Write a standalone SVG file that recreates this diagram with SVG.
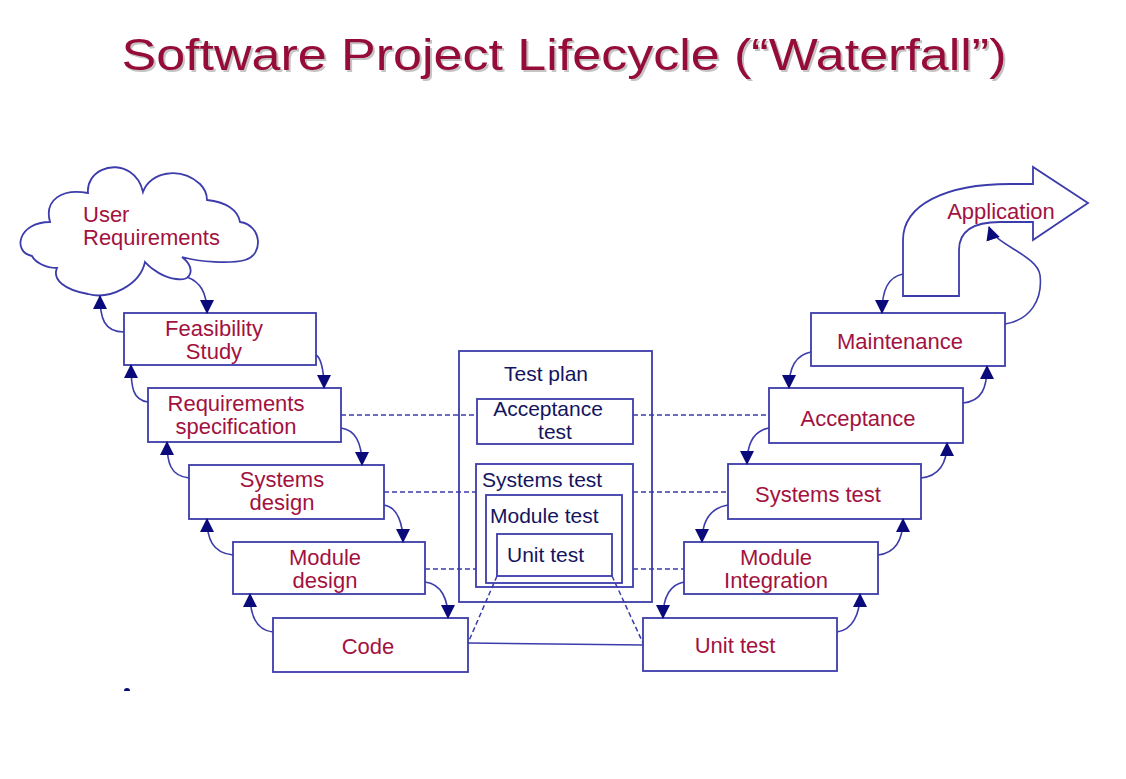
<svg xmlns="http://www.w3.org/2000/svg" width="1126" height="779" viewBox="0 0 1126 779">
<defs>
<style>
.box{fill:#fff;stroke:#3c3cab;stroke-width:1.8}
.lbl{font-family:"Liberation Sans",Arial,sans-serif;font-size:22px;fill:#a3123f;text-anchor:middle}
.tp{font-family:"Liberation Sans",Arial,sans-serif;font-size:21px;fill:#14145e}
.conn{fill:none;stroke:#3c3cab;stroke-width:1.6}
.dash{fill:none;stroke:#3c3cab;stroke-width:1.5;stroke-dasharray:5,3}
.title{font-family:"Liberation Sans",Arial,sans-serif;font-size:45px;text-anchor:middle}
</style>
<marker id="ah" viewBox="0 0 14 14" markerWidth="14" markerHeight="14" refX="13" refY="7" orient="auto" markerUnits="userSpaceOnUse">
<path d="M0,0 L14,7 L0,14 z" fill="#0a0a7a"/>
</marker>
</defs>
<rect width="1126" height="779" fill="#fff"/>

<g id="title">
<text class="title" x="566" y="72" fill="#c4c4c4" textLength="885" lengthAdjust="spacingAndGlyphs">Software Project Lifecycle (“Waterfall”)</text>
<text class="title" x="564" y="70" fill="#960c38" textLength="885" lengthAdjust="spacingAndGlyphs">Software Project Lifecycle (“Waterfall”)</text>
</g>

<g id="user-requirements">
<path class="box" stroke-width="1.5" d="M32,256 C12,252 18,222 50,222 C44,200 62,188 88,193 C86,172 112,160 130,172 C136,176 141,183 143,192 C150,172 180,166 200,184 C205,189 207,195 207,200 C226,202 238,210 240,222 C262,225 264,255 245,260 C230,264 200,262 182,257 C196,268 192,282 176,279 C165,278 152,270 145,262 C140,285 110,300 88,294 C65,290 52,280 57,268 C45,268 35,262 32,256 Z"/>
<text class="lbl" style="text-anchor:start" x="83" y="222">User</text>
<text class="lbl" style="text-anchor:start" x="83" y="245">Requirements</text>
</g>

<g id="feasibility">
<rect class="box" x="124" y="313" width="192" height="52"/>
<text class="lbl" x="214" y="336">Feasibility</text>
<text class="lbl" x="214" y="359">Study</text>
</g>
<g id="req-spec">
<rect class="box" x="148" y="388" width="193" height="54"/>
<text class="lbl" x="236" y="411">Requirements</text>
<text class="lbl" x="236" y="434">specification</text>
</g>
<g id="systems-design">
<rect class="box" x="189" y="465" width="195" height="54"/>
<text class="lbl" x="282" y="487">Systems</text>
<text class="lbl" x="282" y="510">design</text>
</g>
<g id="module-design">
<rect class="box" x="233" y="542" width="192" height="52"/>
<text class="lbl" x="325" y="565">Module</text>
<text class="lbl" x="325" y="588">design</text>
</g>
<g id="code">
<rect class="box" x="273" y="618" width="195" height="54"/>
<text class="lbl" x="368" y="654">Code</text>
</g>

<g id="test-plan">
<rect class="box" x="459" y="351" width="193" height="251"/>
<text class="tp" x="546" y="381" text-anchor="middle">Test plan</text>
<rect class="box" x="477" y="399" width="156" height="45"/>
<text class="tp" x="548" y="416" text-anchor="middle">Acceptance</text>
<text class="tp" x="555" y="439" text-anchor="middle">test</text>
<rect class="box" x="476" y="464" width="157" height="123"/>
<text class="tp" x="482" y="487">Systems test</text>
<rect class="box" x="486" y="495" width="136" height="88"/>
<text class="tp" x="490" y="523">Module test</text>
<rect class="box" x="497" y="534" width="115" height="42"/>
<text class="tp" x="507" y="562">Unit test</text>
</g>

<g id="application">
<path class="box" stroke-width="1.6" d="M903,296 L903,240 C903,205 945,184 1010,184 L1033,184 L1033,167 L1088,203 L1033,240 L1033,222 L1000,222 C975,222 959,230 959,250 L959,296 Z"/>
<text class="lbl" x="1001" y="219">Application</text>
</g>
<g id="maintenance">
<rect class="box" x="811" y="313" width="194" height="53"/>
<text class="lbl" x="900" y="349">Maintenance</text>
</g>
<g id="acceptance">
<rect class="box" x="769" y="388" width="194" height="55"/>
<text class="lbl" x="858" y="426">Acceptance</text>
</g>
<g id="systems-test">
<rect class="box" x="728" y="464" width="193" height="55"/>
<text class="lbl" x="818" y="502">Systems test</text>
</g>
<g id="module-integration">
<rect class="box" x="684" y="542" width="194" height="52"/>
<text class="lbl" x="776" y="565">Module</text>
<text class="lbl" x="776" y="588">Integration</text>
</g>
<g id="unit-test">
<rect class="box" x="643" y="618" width="194" height="53"/>
<text class="lbl" x="735" y="653">Unit test</text>
</g>

<g id="connectors">
<path class="dash" d="M341,415 L477,415 M633,415 L769,415"/>
<path class="dash" d="M384,492 L476,492 M633,492 L728,492"/>
<path class="dash" d="M425,569 L476,569 M633,569 L684,569"/>
<path class="dash" d="M497,576 L468,643 M612,576 L643,643"/>
<path class="conn" d="M468,643 L643,645"/>

<path class="conn" marker-end="url(#ah)" d="M187,277 C200,282 207,292 207,313"/>
<path class="conn" marker-end="url(#ah)" d="M316,355 C320,357 324,368 324,388"/>
<path class="conn" marker-end="url(#ah)" d="M341,428 C356,430 362,445 362,465"/>
<path class="conn" marker-end="url(#ah)" d="M384,505 C398,507 403,525 403,542"/>
<path class="conn" marker-end="url(#ah)" d="M425,582 C442,584 448,600 448,618"/>

<path class="conn" marker-end="url(#ah)" d="M124,332 C104,332 100,318 100,296"/>
<path class="conn" marker-end="url(#ah)" d="M148,402 C133,400 131,388 131,365"/>
<path class="conn" marker-end="url(#ah)" d="M189,478 C170,476 167,462 167,442"/>
<path class="conn" marker-end="url(#ah)" d="M233,555 C212,553 207,538 207,519"/>
<path class="conn" marker-end="url(#ah)" d="M273,632 C254,630 250,612 250,594"/>

<path class="conn" marker-end="url(#ah)" d="M837,632 C852,630 860,615 860,594"/>
<path class="conn" marker-end="url(#ah)" d="M878,555 C896,553 903,540 903,519"/>
<path class="conn" marker-end="url(#ah)" d="M921,478 C940,476 947,462 947,443"/>
<path class="conn" marker-end="url(#ah)" d="M963,403 C982,401 987,388 987,366"/>
<path class="conn" marker-end="url(#ah)" d="M1005,324 C1030,320 1043,300 1040,275 C1037,255 995,245 989,227"/>

<path class="conn" marker-end="url(#ah)" d="M903,274 C888,277 882,290 882,313"/>
<path class="conn" marker-end="url(#ah)" d="M811,352 C795,355 789,368 789,388"/>
<path class="conn" marker-end="url(#ah)" d="M769,428 C752,431 747,446 747,464"/>
<path class="conn" marker-end="url(#ah)" d="M728,505 C710,508 702,522 702,542"/>
<path class="conn" marker-end="url(#ah)" d="M684,582 C668,585 663,600 663,618"/>
</g>

<path d="M124,691 A3,3 0 0 1 130,691 Z" fill="#0a0a7a"/>
</svg>
